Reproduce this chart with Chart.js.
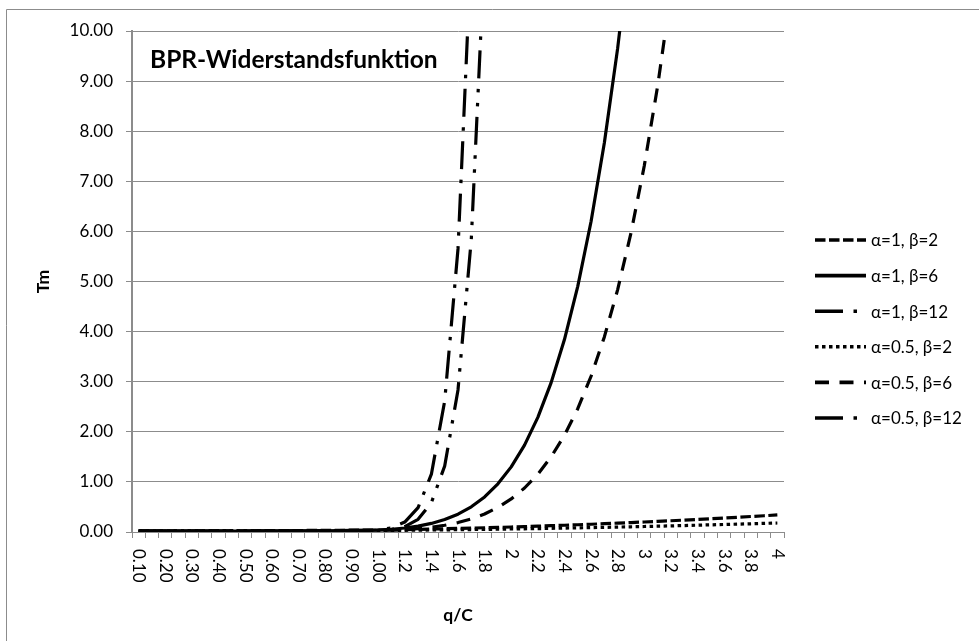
<!DOCTYPE html>
<html>
<head>
<meta charset="utf-8">
<title>BPR-Widerstandsfunktion</title>
<script src="https://cdn.jsdelivr.net/npm/chart.js@4.4.1/dist/chart.umd.min.js"></script>
<style>
  html, body { margin: 0; padding: 0; background: #fff; }
  canvas { display: block; }
</style>
</head>
<body>
<canvas id="chart" width="979" height="641"></canvas>
<script>
// q/C steps along the category axis
const categories = ['0.10','0.15','0.20','0.25','0.30','0.35','0.40','0.45','0.50','0.55','0.60','0.65','0.70','0.75','0.80','0.85','0.90','0.95','1.00',
  '1.1','1.2','1.3','1.4','1.5','1.6','1.7','1.8','1.9','2','2.1','2.2','2.3','2.4','2.5','2.6','2.7','2.8','2.9','3',
  '3.1','3.2','3.3','3.4','3.5','3.6','3.7','3.8','3.9','4'];

// labels printed under the axis (every second step)
const tickLabels = ['0.10','','0.20','','0.30','','0.40','','0.50','','0.60','','0.70','','0.80','','0.90','','1.00',
  '','1.2','','1.4','','1.6','','1.8','','2','','2.2','','2.4','','2.6','','2.8','','3',
  '','3.2','','3.4','','3.6','','3.8','','4'];

const yTicks = [0,1,2,3,4,5,6,7,8,9,10];

// Tm per parameter set
const a1b2 = [0.020,0.020,0.021,0.021,0.022,0.022,0.023,0.024,0.025,0.026,0.027,0.028,0.030,0.031,0.033,0.034,0.036,0.038,0.040,
  0.044,0.049,0.054,0.059,0.065,0.071,0.078,0.085,0.092,0.100,0.108,0.117,0.126,0.135,0.145,0.155,0.166,0.177,0.188,0.200,
  0.212,0.225,0.238,0.251,0.265,0.279,0.294,0.309,0.324,0.340];
const a1b6 = [0.020,0.020,0.020,0.020,0.020,0.020,0.020,0.020,0.020,0.021,0.021,0.022,0.022,0.024,0.025,0.028,0.031,0.035,0.040,
  0.055,0.080,0.117,0.171,0.248,0.356,0.503,0.700,0.961,1.300,1.735,2.288,2.981,3.842,4.903,6.198,7.768,9.658,11.917,null,
  null,null,null,null,null,null,null,null,null,null];
const a1b12 = [0.020,0.020,0.020,0.020,0.020,0.020,0.020,0.020,0.020,0.020,0.020,0.020,0.020,0.021,0.021,0.023,0.026,0.031,0.040,
  0.083,0.198,0.486,1.154,2.615,5.650,11.672,null,null,null,null,null,null,null,null,null,null,null,null,null,
  null,null,null,null,null,null,null,null,null,null];
const a05b2 = [0.020,0.020,0.020,0.021,0.021,0.021,0.022,0.022,0.023,0.023,0.024,0.024,0.025,0.026,0.026,0.027,0.028,0.029,0.030,
  0.032,0.034,0.037,0.040,0.043,0.046,0.049,0.052,0.056,0.060,0.064,0.068,0.073,0.078,0.083,0.088,0.093,0.098,0.104,0.110,
  0.116,0.122,0.129,0.136,0.143,0.150,0.157,0.164,0.172,0.180];
const a05b6 = [0.020,0.020,0.020,0.020,0.020,0.020,0.020,0.020,0.020,0.020,0.020,0.021,0.021,0.022,0.023,0.024,0.025,0.027,0.030,
  0.038,0.050,0.068,0.095,0.134,0.188,0.261,0.360,0.491,0.660,0.878,1.154,1.500,1.931,2.461,3.109,3.894,4.839,5.968,7.310,
  8.895,10.757,null,null,null,null,null,null,null,null];
const a05b12 = [0.020,0.020,0.020,0.020,0.020,0.020,0.020,0.020,0.020,0.020,0.020,0.020,0.020,0.020,0.021,0.021,0.023,0.025,0.030,
  0.051,0.109,0.253,0.587,1.318,2.835,5.846,11.588,null,null,null,null,null,null,null,null,null,null,null,null,
  null,null,null,null,null,null,null,null,null,null];

const seriesLabels = ['α=1, β=2','α=1, β=6','α=1, β=12','α=0.5, β=2','α=0.5, β=6','α=0.5, β=12'];

const chartTitle = 'BPR-Widerstandsfunktion';
const xTitle = 'q/C';
const yTitle = 'Tm';

// line look
const LW = 3.2;
const U = 3.5; // dash unit
const dashes = [
  [3*U, 1*U],                         // short dash
  [],                                  // solid
  [8*U, 3*U, 1*U, 3*U],               // long dash dot
  [1*U, 1*U],                         // dotted
  [4*U, 3*U],                         // dash
  [8*U, 3*U, 1*U, 3*U, 1*U, 3*U]      // long dash dot dot
];
const seriesData = [a1b2, a1b6, a1b12, a05b2, a05b6, a05b12];

const FONT = 'Lato, "Open Sans", sans-serif';
const GRID = '#8c8c8c';

const PLOT = { left: 132, right: 784, top: 31, bottom: 532 };
const W = 979, H = 641;

const datasets = seriesData.map((d, i) => ({
  label: seriesLabels[i],
  data: d,
  borderColor: '#000',
  backgroundColor: '#000',
  borderWidth: LW,
  borderDash: dashes[i],
  borderCapStyle: 'butt',
  borderJoinStyle: 'round',
  pointRadius: 0,
  pointHoverRadius: 0,
  tension: 0,
  spanGaps: false,
  fill: false
}));

// frame, titles, rotated category labels and legend
const decor = {
  id: 'decor',
  afterDraw(chart) {
    const { ctx, chartArea: a } = chart;
    const xs = chart.scales.x;
    ctx.save();

    ctx.strokeStyle = GRID;
    ctx.lineWidth = 1;
    ctx.setLineDash([]);
    ctx.beginPath();
    ctx.moveTo(6.5, H);
    ctx.lineTo(6.5, 9.5);
    ctx.lineTo(W, 9.5);
    ctx.stroke();

    ctx.fillStyle = '#000';
    ctx.font = 'bold 24.5px ' + FONT;
    ctx.textAlign = 'left';
    ctx.textBaseline = 'alphabetic';
    ctx.fillText(chartTitle, 150, 68);

    ctx.font = '17px ' + FONT;
    tickLabels.forEach((t, i) => {
      if (!t) return;
      const px = xs.getPixelForTick(i);
      ctx.save();
      ctx.translate(px, a.bottom + 17);
      ctx.rotate(Math.PI / 2);
      ctx.textAlign = 'left';
      ctx.textBaseline = 'middle';
      ctx.fillText(t, 0, 0);
      ctx.restore();
    });

    ctx.font = 'bold 17.5px ' + FONT;
    ctx.textAlign = 'center';
    ctx.textBaseline = 'middle';
    ctx.fillText(xTitle, (a.left + a.right) / 2, 615);
    ctx.save();
    ctx.translate(43, (a.top + a.bottom) / 2);
    ctx.rotate(-Math.PI / 2);
    ctx.fillText(yTitle, 0, 0);
    ctx.restore();

    ctx.font = '17px ' + FONT;
    ctx.textAlign = 'left';
    ctx.textBaseline = 'middle';
    chart.data.datasets.forEach((ds, k) => {
      const y = 240 + k * 35.6;
      ctx.save();
      ctx.strokeStyle = ds.borderColor;
      ctx.lineWidth = 3.6;
      ctx.lineCap = 'butt';
      ctx.setLineDash(ds.borderDash || []);
      ctx.beginPath();
      ctx.moveTo(815, y);
      ctx.lineTo(866, y);
      ctx.stroke();
      ctx.restore();
      ctx.fillText(ds.label, 871, y + 1);
    });

    ctx.restore();
  }
};

new Chart(document.getElementById('chart'), {
  type: 'line',
  data: { labels: categories, datasets },
  plugins: [decor],
  options: {
    responsive: false,
    maintainAspectRatio: false,
    devicePixelRatio: 1,
    animation: false,
    events: [],
    layout: { padding: { left: 0, top: PLOT.top, right: W - PLOT.right, bottom: 0 } },
    plugins: {
      legend: { display: false },
      title: { display: false },
      tooltip: { enabled: false }
    },
    scales: {
      x: {
        type: 'category',
        offset: true,
        grid: {
          display: true,
          offset: true,
          drawOnChartArea: false,
          drawTicks: true,
          tickLength: 6,
          color: GRID,
          tickColor: GRID,
          lineWidth: 1
        },
        border: { display: true, color: GRID, width: 1 },
        ticks: { display: false, autoSkip: false },
        afterFit(s) {
          s.height = H - PLOT.bottom;
          s.paddingLeft = 0; s.paddingRight = 0; s.paddingTop = 0; s.paddingBottom = 0;
        }
      },
      y: {
        min: 0,
        max: 10,
        afterBuildTicks(s) { s.ticks = yTicks.map(v => ({ value: v })); },
        grid: {
          color: GRID,
          tickColor: GRID,
          lineWidth: 1,
          drawTicks: true,
          tickLength: 6
        },
        border: { display: true, color: GRID, width: 2 },
        ticks: {
          padding: 13,
          color: '#000',
          font: { family: FONT, size: 17 },
          callback: v => Number(v).toFixed(2)
        },
        afterFit(s) {
          s.width = PLOT.left;
          s.paddingTop = 0; s.paddingBottom = 0; s.paddingLeft = 0; s.paddingRight = 0;
        }
      }
    }
  }
});
</script>
</body>
</html>
